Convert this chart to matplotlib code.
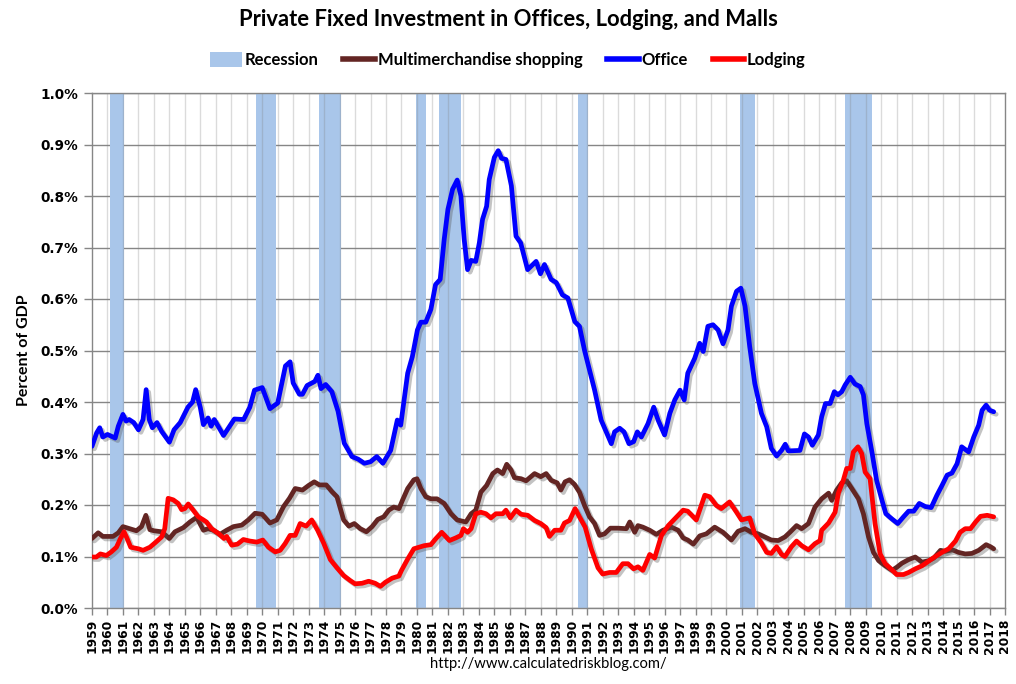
import matplotlib
matplotlib.use("Agg")
import matplotlib.pyplot as plt
from matplotlib import patheffects as pe
from matplotlib.patches import Patch
from matplotlib.lines import Line2D
from matplotlib.ticker import FuncFormatter, MultipleLocator

# ---------------- data ----------------
years = list(range(1959, 2019))

recession_start = [1960.17, 1969.61, 1973.66, 1979.92, 1981.41, 1990.40, 2000.90, 2007.66]
recession_end = [1961.07, 1970.90, 1975.10, 1980.60, 1982.86, 1991.08, 2001.84, 2009.39]

office_t = [1959.0, 1959.3, 1959.5, 1959.7, 1960.0, 1960.5, 1960.7, 1961.0, 1961.2, 1961.4,
            1961.7, 1962.0, 1962.3, 1962.5, 1962.7, 1962.9, 1963.2, 1963.5, 1964.0, 1964.3,
            1964.7, 1965.2, 1965.5, 1965.7, 1966.0, 1966.2, 1966.5, 1966.7, 1966.9, 1967.5,
            1968.2, 1968.8, 1969.2, 1969.5, 1970.0, 1970.5, 1971.0, 1971.5, 1971.8, 1972.0,
            1972.4, 1972.6, 1972.9, 1973.4, 1973.6, 1973.8, 1974.1, 1974.5, 1974.9, 1975.3,
            1975.8, 1976.2, 1976.6, 1977.0, 1977.4, 1977.8, 1978.3, 1978.73, 1978.95, 1979.4,
            1979.7, 1980.03, 1980.25, 1980.57, 1980.9, 1981.2, 1981.5, 1981.76, 1982.0, 1982.3,
            1982.6, 1982.84, 1983.05, 1983.27, 1983.5, 1983.8, 1984.03, 1984.24, 1984.5, 1984.67,
            1985.0, 1985.25, 1985.47, 1985.75, 1986.1, 1986.4, 1986.7, 1987.15, 1987.7, 1987.98,
            1988.24, 1988.67, 1989.0, 1989.4, 1989.75, 1990.2, 1990.5, 1990.83, 1991.15, 1991.48,
            1991.9, 1992.23, 1992.56, 1992.77, 1993.1, 1993.38, 1993.7, 1994.0, 1994.24, 1994.5,
            1994.93, 1995.3, 1995.58, 1996.0, 1996.34, 1996.66, 1997.0, 1997.27, 1997.5, 1997.95,
            1998.27, 1998.5, 1998.8, 1999.13, 1999.46, 1999.78, 2000.1, 2000.32, 2000.65, 2000.93,
            2001.2, 2001.5, 2001.83, 2002.26, 2002.6, 2002.9, 2003.24, 2003.56, 2003.8, 2004.0,
            2004.75, 2005.04, 2005.3, 2005.55, 2005.94, 2006.15, 2006.4, 2006.7, 2006.97, 2007.2,
            2007.45, 2007.67, 2008.0, 2008.3, 2008.64, 2008.85, 2009.07, 2009.4, 2009.7, 2010.05,
            2010.3, 2010.69, 2011.07, 2011.44, 2011.77, 2012.1, 2012.46, 2012.85, 2013.23, 2013.6,
            2013.93, 2014.26, 2014.57, 2014.9, 2015.2, 2015.65, 2015.98, 2016.3, 2016.52, 2016.78,
            2017.0, 2017.27]
office_v = [0.314, 0.340, 0.350, 0.332, 0.337, 0.330, 0.353, 0.376, 0.363, 0.366,
            0.360, 0.346, 0.366, 0.424, 0.366, 0.350, 0.360, 0.343, 0.322, 0.346,
            0.360, 0.390, 0.400, 0.424, 0.389, 0.356, 0.369, 0.353, 0.366, 0.335,
            0.367, 0.366, 0.390, 0.423, 0.428, 0.387, 0.398, 0.470, 0.478, 0.437,
            0.415, 0.415, 0.432, 0.440, 0.452, 0.426, 0.434, 0.420, 0.382, 0.320,
            0.294, 0.289, 0.281, 0.284, 0.294, 0.281, 0.306, 0.365, 0.355, 0.456,
            0.488, 0.540, 0.555, 0.555, 0.580, 0.628, 0.638, 0.716, 0.774, 0.813,
            0.831, 0.800, 0.716, 0.657, 0.675, 0.673, 0.709, 0.755, 0.780, 0.832,
            0.875, 0.888, 0.873, 0.871, 0.820, 0.722, 0.709, 0.657, 0.673, 0.649,
            0.667, 0.638, 0.632, 0.608, 0.602, 0.556, 0.547, 0.500, 0.462, 0.423,
            0.365, 0.342, 0.319, 0.342, 0.349, 0.342, 0.319, 0.323, 0.342, 0.332,
            0.358, 0.390, 0.365, 0.336, 0.378, 0.404, 0.423, 0.404, 0.456, 0.485,
            0.514, 0.498, 0.547, 0.550, 0.540, 0.513, 0.540, 0.586, 0.615, 0.621,
            0.586, 0.508, 0.436, 0.378, 0.352, 0.310, 0.295, 0.306, 0.318, 0.305,
            0.306, 0.338, 0.332, 0.316, 0.336, 0.371, 0.397, 0.397, 0.420, 0.414,
            0.420, 0.433, 0.448, 0.435, 0.430, 0.414, 0.358, 0.303, 0.248, 0.209,
            0.183, 0.173, 0.164, 0.177, 0.188, 0.188, 0.203, 0.197, 0.195, 0.219,
            0.238, 0.258, 0.262, 0.280, 0.313, 0.303, 0.332, 0.355, 0.384, 0.394,
            0.384, 0.381]

mall_t = [1959.0, 1959.4, 1959.7, 1960.36, 1960.7, 1961.0, 1961.44, 1961.87, 1962.2, 1962.48,
          1962.74, 1963.0, 1963.5, 1964.0, 1964.36, 1964.9, 1965.33, 1965.76, 1966.2, 1966.5,
          1966.84, 1967.27, 1967.7, 1968.14, 1968.68, 1969.1, 1969.54, 1970.0, 1970.5, 1970.94,
          1971.38, 1971.76, 1972.13, 1972.6, 1973.0, 1973.36, 1973.7, 1974.14, 1974.5, 1974.83,
          1975.26, 1975.6, 1975.95, 1976.34, 1976.73, 1977.1, 1977.47, 1977.85, 1978.18, 1978.5,
          1978.84, 1979.06, 1979.4, 1979.8, 1980.0, 1980.25, 1980.57, 1980.9, 1981.3, 1981.76,
          1982.2, 1982.6, 1983.16, 1983.5, 1983.8, 1984.13, 1984.5, 1984.9, 1985.2, 1985.54,
          1985.8, 1986.08, 1986.3, 1986.73, 1987.05, 1987.6, 1988.0, 1988.35, 1988.67, 1989.06,
          1989.3, 1989.57, 1989.86, 1990.18, 1990.5, 1990.83, 1991.15, 1991.48, 1991.8, 1992.12,
          1992.5, 1993.0, 1993.53, 1993.75, 1994.07, 1994.28, 1994.6, 1995.04, 1995.47, 1995.9,
          1996.44, 1996.88, 1997.2, 1997.5, 1997.86, 1998.27, 1998.7, 1999.24, 1999.78, 2000.32,
          2000.75, 2001.2, 2001.62, 2002.05, 2002.48, 2002.9, 2003.35, 2003.78, 2004.1, 2004.53,
          2004.86, 2005.3, 2005.72, 2006.15, 2006.6, 2006.8, 2007.12, 2007.45, 2007.77, 2008.1,
          2008.53, 2008.85, 2009.18, 2009.5, 2009.83, 2010.26, 2010.7, 2011.0, 2011.34, 2011.77,
          2012.2, 2012.64, 2013.07, 2013.4, 2013.83, 2014.15, 2014.6, 2015.0, 2015.43, 2015.86,
          2016.3, 2016.78, 2017.06, 2017.27]
mall_v = [0.135, 0.146, 0.139, 0.139, 0.146, 0.158, 0.154, 0.150, 0.158, 0.180,
          0.152, 0.150, 0.148, 0.135, 0.148, 0.156, 0.167, 0.176, 0.151, 0.154,
          0.151, 0.143, 0.151, 0.158, 0.161, 0.171, 0.184, 0.182, 0.165, 0.171,
          0.197, 0.213, 0.232, 0.229, 0.238, 0.245, 0.239, 0.239, 0.226, 0.216,
          0.171, 0.159, 0.164, 0.154, 0.148, 0.158, 0.172, 0.177, 0.190, 0.196,
          0.193, 0.209, 0.232, 0.249, 0.251, 0.232, 0.216, 0.212, 0.212, 0.203,
          0.183, 0.171, 0.167, 0.183, 0.190, 0.225, 0.238, 0.261, 0.268, 0.261,
          0.279, 0.268, 0.253, 0.251, 0.247, 0.261, 0.255, 0.261, 0.248, 0.243,
          0.229, 0.245, 0.249, 0.240, 0.225, 0.199, 0.177, 0.164, 0.141, 0.144,
          0.155, 0.155, 0.154, 0.167, 0.147, 0.160, 0.157, 0.151, 0.143, 0.151,
          0.157, 0.151, 0.136, 0.132, 0.124, 0.140, 0.144, 0.157, 0.147, 0.132,
          0.149, 0.154, 0.147, 0.144, 0.138, 0.132, 0.131, 0.138, 0.147, 0.160,
          0.154, 0.164, 0.196, 0.212, 0.223, 0.209, 0.229, 0.243, 0.247, 0.232,
          0.212, 0.183, 0.138, 0.108, 0.092, 0.082, 0.073, 0.079, 0.087, 0.094,
          0.099, 0.089, 0.092, 0.097, 0.112, 0.110, 0.113, 0.108, 0.105, 0.106,
          0.112, 0.123, 0.119, 0.115]

lodging_t = [1959.0, 1959.28, 1959.54, 1959.93, 1960.25, 1960.58, 1960.84, 1961.07, 1961.27, 1961.5,
             1962.0, 1962.3, 1962.74, 1963.13, 1963.5, 1963.7, 1963.92, 1964.25, 1964.57, 1964.79,
             1965.0, 1965.22, 1965.54, 1965.87, 1966.2, 1966.4, 1966.73, 1967.16, 1967.53, 1967.7,
             1968.03, 1968.4, 1968.78, 1969.2, 1969.65, 1970.04, 1970.4, 1970.84, 1971.16, 1971.48,
             1971.8, 1972.13, 1972.45, 1972.84, 1973.2, 1973.58, 1973.97, 1974.4, 1974.83, 1975.26,
             1975.7, 1976.0, 1976.45, 1976.88, 1977.3, 1977.64, 1977.96, 1978.4, 1978.83, 1979.0,
             1979.4, 1979.8, 1980.46, 1980.9, 1981.2, 1981.6, 1982.1, 1982.5, 1982.84, 1983.0,
             1983.27, 1983.5, 1983.8, 1984.13, 1984.46, 1984.78, 1985.1, 1985.54, 1985.75, 1986.03,
             1986.4, 1986.73, 1987.16, 1987.6, 1988.0, 1988.35, 1988.56, 1988.9, 1989.3, 1989.53,
             1989.86, 1990.22, 1990.5, 1990.87, 1991.26, 1991.7, 1992.0, 1992.45, 1992.88, 1993.3,
             1993.64, 1994.0, 1994.28, 1994.6, 1995.04, 1995.36, 1995.8, 1996.24, 1996.66, 1997.2,
             1997.5, 1998.05, 1998.6, 1998.92, 1999.35, 1999.67, 2000.2, 2000.65, 2000.97, 2001.5,
             2001.83, 2002.26, 2002.6, 2002.9, 2003.24, 2003.56, 2003.78, 2004.2, 2004.53, 2004.86,
             2005.3, 2005.72, 2006.05, 2006.15, 2006.6, 2007.02, 2007.23, 2007.55, 2007.77, 2008.0,
             2008.2, 2008.5, 2008.74, 2008.96, 2009.28, 2009.6, 2009.93, 2010.26, 2010.7, 2011.0,
             2011.44, 2011.77, 2012.2, 2012.64, 2013.07, 2013.5, 2013.93, 2014.36, 2014.8, 2015.1,
             2015.43, 2015.77, 2016.1, 2016.42, 2016.85, 2017.27]
lodging_v = [0.099, 0.099, 0.105, 0.102, 0.109, 0.118, 0.135, 0.148, 0.135, 0.118,
             0.115, 0.112, 0.118, 0.128, 0.138, 0.154, 0.213, 0.210, 0.203, 0.191,
             0.193, 0.202, 0.190, 0.177, 0.171, 0.167, 0.154, 0.145, 0.135, 0.139,
             0.122, 0.124, 0.133, 0.130, 0.128, 0.132, 0.118, 0.109, 0.112, 0.125,
             0.141, 0.141, 0.164, 0.159, 0.171, 0.151, 0.126, 0.094, 0.078, 0.063,
             0.053, 0.047, 0.048, 0.052, 0.048, 0.042, 0.050, 0.058, 0.062, 0.073,
             0.095, 0.115, 0.121, 0.123, 0.134, 0.147, 0.131, 0.136, 0.141, 0.154,
             0.147, 0.154, 0.183, 0.186, 0.183, 0.175, 0.183, 0.183, 0.190, 0.175,
             0.190, 0.182, 0.180, 0.170, 0.164, 0.156, 0.139, 0.151, 0.151, 0.165,
             0.170, 0.193, 0.177, 0.157, 0.115, 0.078, 0.066, 0.069, 0.069, 0.086,
             0.086, 0.076, 0.080, 0.073, 0.104, 0.097, 0.141, 0.160, 0.173, 0.190,
             0.188, 0.171, 0.219, 0.216, 0.199, 0.193, 0.206, 0.186, 0.171, 0.175,
             0.144, 0.126, 0.108, 0.106, 0.119, 0.104, 0.100, 0.119, 0.130, 0.121,
             0.113, 0.125, 0.131, 0.151, 0.165, 0.186, 0.223, 0.248, 0.271, 0.271,
             0.303, 0.313, 0.300, 0.264, 0.251, 0.164, 0.105, 0.086, 0.074, 0.065,
             0.065, 0.069, 0.076, 0.082, 0.091, 0.100, 0.108, 0.115, 0.130, 0.147,
             0.154, 0.154, 0.167, 0.178, 0.180, 0.177]

# ---------------- styling ----------------
C_REC = "#A9C6EA"
C_MALL = "#632523"
C_OFF = "#0000FF"
C_LOD = "#FF0000"
C_AX = "#868686"
TXT = ["Lato", "DejaVu Sans"]

fig = plt.figure(figsize=(10.16, 6.84), dpi=100)
ax = fig.add_axes([92 / 1016, 76 / 684, 913 / 1016, 515 / 684])

ax.set_xlim(years[0], years[-1])
ax.set_ylim(0, 1.0)

# horizontal gridlines under recession bars
ax.set_axisbelow(True)
ax.yaxis.grid(True, color=C_AX, lw=1.0)
ax.xaxis.grid(False)

for s, e in zip(recession_start, recession_end):
    ax.axvspan(s, e, color=C_REC, lw=0, zorder=1)

# vertical year gridlines drawn over bars (semi-transparent)
ax.vlines(years[1:-1], 0, 1, colors=[(0.5, 0.5, 0.5, 0.28)], lw=1.0, zorder=1.5)

shadow = [pe.SimpleLineShadow(offset=(1.8, -1.8), shadow_color="#555555", alpha=0.35),
          pe.Normal()]
lw = 3.4
ax.plot(mall_t, mall_v, color=C_MALL, lw=lw, solid_joinstyle="round",
        solid_capstyle="round", path_effects=shadow, zorder=3)
ax.plot(office_t, office_v, color=C_OFF, lw=lw, solid_joinstyle="round",
        solid_capstyle="round", path_effects=shadow, zorder=4)
ax.plot(lodging_t, lodging_v, color=C_LOD, lw=lw, solid_joinstyle="round",
        solid_capstyle="round", path_effects=shadow, zorder=5)

# axes and ticks
for sp in ax.spines.values():
    sp.set_color(C_AX)
    sp.set_linewidth(1.0)
ax.set_xticks(years)
ax.set_xticklabels([str(y) for y in years], rotation=90, fontsize=8.8,
                   fontweight="bold", family="DejaVu Sans")
ax.yaxis.set_major_locator(MultipleLocator(0.1))
ax.yaxis.set_major_formatter(FuncFormatter(lambda v, p: f"{v:.1f}%"))
ax.tick_params(axis="y", labelsize=9.8, colors=C_AX, labelcolor="black",
               length=6, width=1, direction="out", pad=4)
ax.tick_params(axis="x", colors=C_AX, labelcolor="black", length=5, width=1,
               direction="out", pad=3)
for lab in ax.get_yticklabels():
    lab.set_fontweight("bold")
    lab.set_family("DejaVu Sans")

ax.set_ylabel("Percent of GDP", fontsize=11.5, fontweight="bold", family=TXT, labelpad=7)

fig.text(0.5, 1 - 20 / 684, "Private Fixed Investment in Offices, Lodging, and Malls",
         ha="center", va="center", fontsize=15.8, fontweight="bold", family=TXT)

handles = [Patch(facecolor=C_REC, edgecolor="none", label="Recession"),
           Line2D([], [], color=C_MALL, lw=4, label="Multimerchandise shopping"),
           Line2D([], [], color=C_OFF, lw=4, label="Office"),
           Line2D([], [], color=C_LOD, lw=4, label="Lodging")]
fig.legend(handles=handles, loc="center", bbox_to_anchor=(0.5, 1 - 60 / 684), ncol=4,
           frameon=False, prop={"family": TXT, "weight": "bold", "size": 12},
           handlelength=1.9, handleheight=1.0, handletextpad=0.15, columnspacing=1.5)

fig.text(548 / 1016, 1 - 664 / 684, "http://www.calculatedriskblog.com/", ha="center",
         va="center", fontsize=10.6, family=TXT)

fig.savefig("out.png", dpi=100)
